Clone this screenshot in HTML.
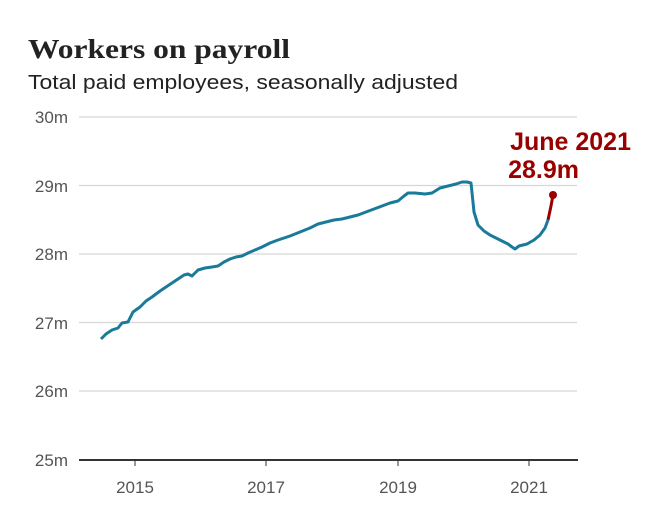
<!DOCTYPE html>
<html><head><style>
body{margin:0;background:#fff;width:663px;height:506px;overflow:hidden;font-family:"Liberation Sans",sans-serif}
</style></head><body>
<svg width="663" height="506" viewBox="0 0 663 506" xmlns="http://www.w3.org/2000/svg">
<text x="28" y="58" font-family="Liberation Serif, serif" font-weight="bold" font-size="27" fill="#222" textLength="262" lengthAdjust="spacingAndGlyphs">Workers on payroll</text>
<text x="28" y="89" font-size="20" fill="#222" textLength="430" lengthAdjust="spacingAndGlyphs">Total paid employees, seasonally adjusted</text>
<g stroke="#d6d6d6" stroke-width="1.3">
<line x1="79" x2="577" y1="117" y2="117"/><line x1="79" x2="577" y1="185.5" y2="185.5"/>
<line x1="79" x2="577" y1="254" y2="254"/><line x1="79" x2="577" y1="322.5" y2="322.5"/>
<line x1="79" x2="577" y1="391" y2="391"/>
</g>
<line x1="79" x2="578" y1="460" y2="460" stroke="#333" stroke-width="2"/>
<g stroke="#333" stroke-width="1"><line x1="135" x2="135" y1="460" y2="466"/><line x1="266" x2="266" y1="460" y2="466"/><line x1="398" x2="398" y1="460" y2="466"/><line x1="529" x2="529" y1="460" y2="466"/></g>
<g font-size="17" fill="#555" text-anchor="end">
<text x="68" y="123">30m</text><text x="68" y="192">29m</text><text x="68" y="260">28m</text>
<text x="68" y="329">27m</text><text x="68" y="397">26m</text><text x="68" y="466">25m</text>
</g>
<g font-size="17" fill="#555" text-anchor="middle">
<text x="135" y="493">2015</text><text x="266" y="493">2017</text><text x="398" y="493">2019</text><text x="529" y="493">2021</text>
</g>
<polyline fill="none" stroke="#1a7a99" stroke-width="3" stroke-linejoin="round" points="101,339 106,334 112,330 118,328 122,323 128,322 133,312 140,307 146,301 152,297 160,291 166,287 172,283 178,279 184,275 188,274 192,276 198,270 205,268 212,267 218,266 224,262 230,259 236,257 242,256 248,253 255,250 262,247 270,243 278,240 290,236 300,232 310,228 318,224 326,222 334,220 342,219 350,217 358,215 366,212 374,209 382,206 390,203 398,201 404,196 408,193 415,193 425,194 432,193 440,188 448,186 456,184 462,182 467,182 471,183 474,212 478,225 484,231 490,235 500,240 508,244 512,247 515,249 519,246 527,244 534,240 540,235 545,228 548,220"/>
<polyline fill="none" stroke="#990000" stroke-width="3" stroke-linejoin="round" points="548,220 551,206 553,195"/>
<circle cx="553" cy="195" r="4" fill="#990000"/>
<g font-size="25" font-weight="bold" fill="#990000" text-anchor="end">
<text x="631" y="150">June 2021</text><text x="579" y="178">28.9m</text>
</g>
</svg>
</body></html>
